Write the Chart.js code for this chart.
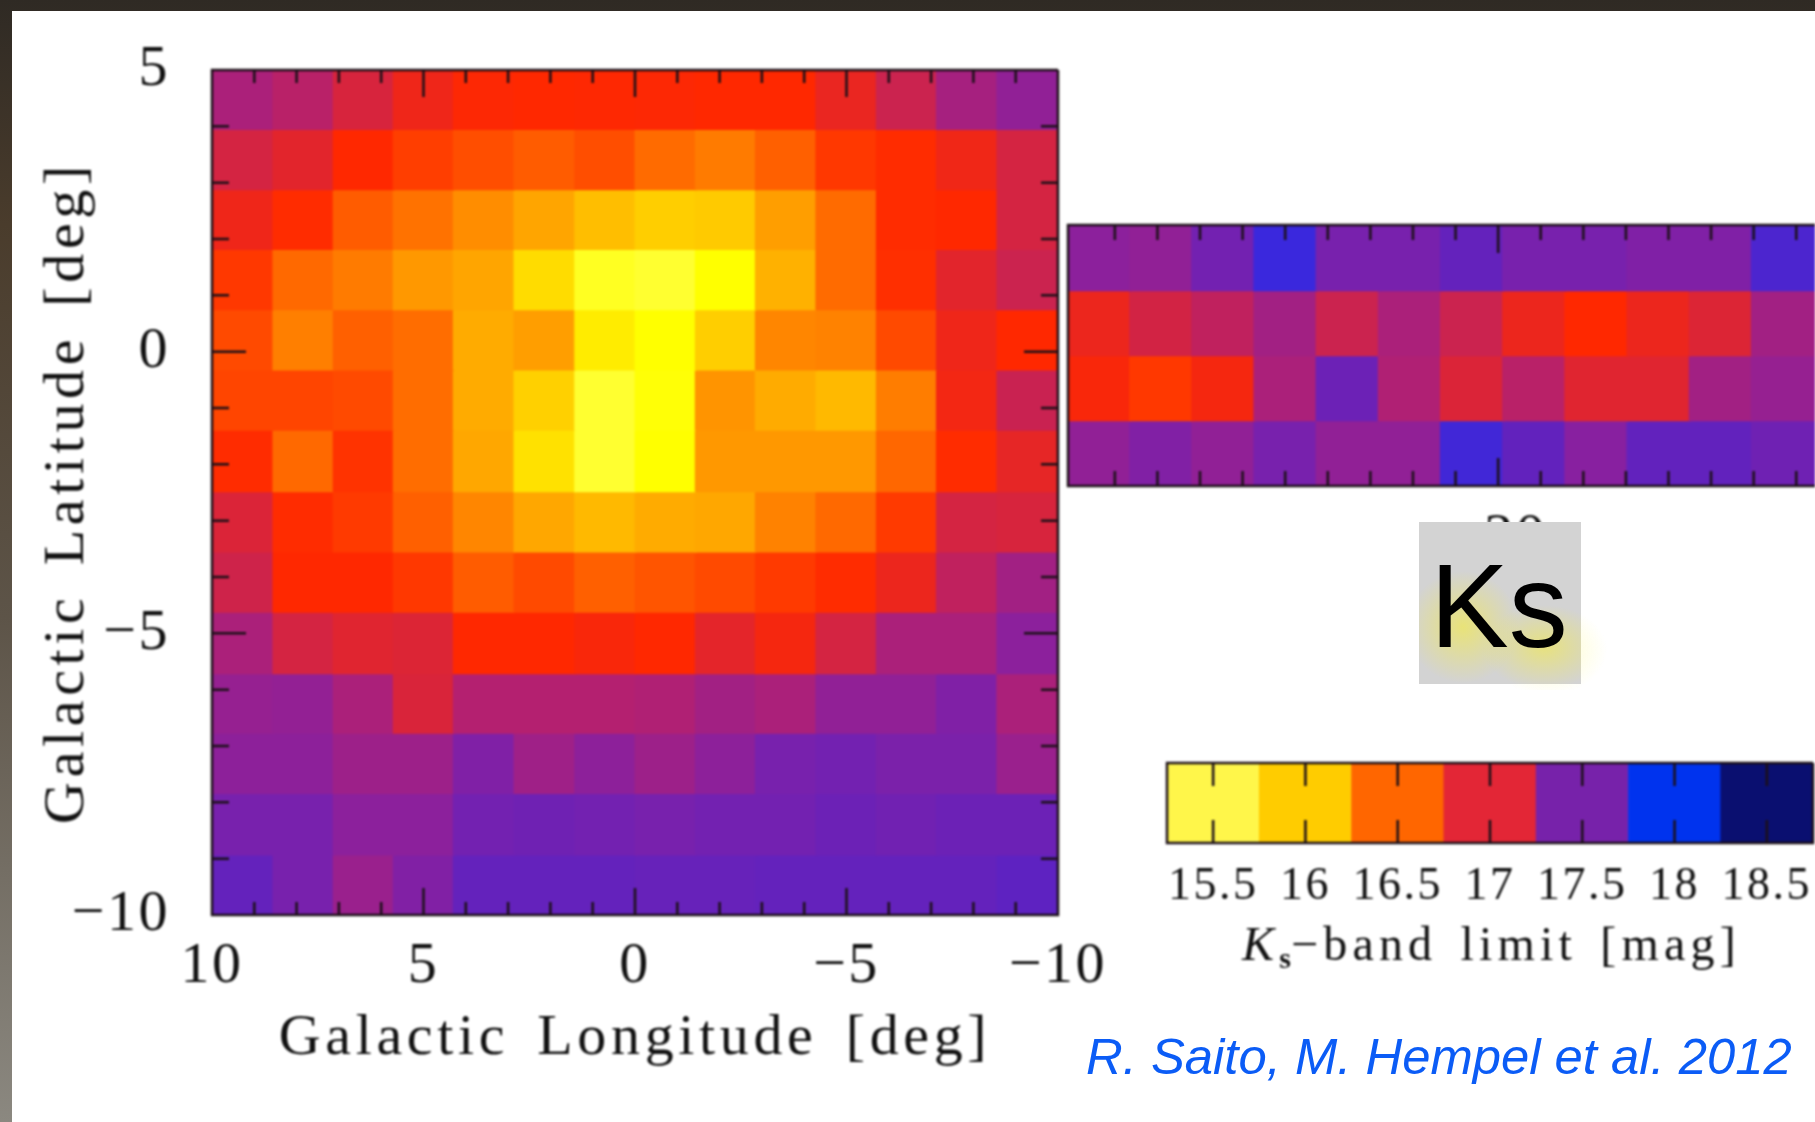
<!DOCTYPE html>
<html>
<head>
<meta charset="utf-8">
<script src="https://cdn.jsdelivr.net/npm/chart.js@4"></script>
<style>
html,body{margin:0;padding:0;width:1815px;height:1122px;overflow:hidden;}
body{position:relative;background:linear-gradient(180deg,#2f2a24 0,#4a3c2c 20%,#5d5448 55%,#8b8880 100%);}
#panel{position:absolute;left:12px;top:11px;right:0;bottom:0;background:#fff;}
canvas{position:absolute;left:0;top:0;filter:blur(1px);}
.t{position:absolute;white-space:nowrap;}
#cbt{left:1242px;top:914px;font:48px "Liberation Serif",serif;letter-spacing:5.2px;word-spacing:6px;color:#111;filter:blur(.8px);line-height:60px;}
#cbt sub{font-size:30px;line-height:0;vertical-align:-8px;font-weight:bold;letter-spacing:0;}
#cred{left:1086px;top:1025px;font:italic 50.8px "Liberation Sans",sans-serif;color:#0b5cf6;filter:blur(.5px);line-height:64px;}
#glow{position:absolute;left:1420px;top:560px;width:190px;height:130px;background:radial-gradient(ellipse 60px 45px at 127px 90px,rgba(255,250,120,.42),rgba(255,250,120,0) 100%);}
#ks{position:absolute;left:1419px;top:522px;width:162px;height:162px;background:
radial-gradient(ellipse 56px 56px at 44px 105px,rgba(240,232,90,.75),rgba(240,232,90,0) 100%),
radial-gradient(ellipse 62px 42px at 125px 125px,rgba(240,232,90,.7),rgba(240,232,90,0) 100%),#d3d3d3;}
#ks span{position:absolute;left:11px;top:-1px;font:118px/170px "Liberation Sans",sans-serif;color:#000;filter:blur(.4px);}
</style>
</head>
<body>
<div id="panel"></div>
<canvas id="main" width="1815" height="1122"></canvas>
<canvas id="strip" width="1815" height="1122"></canvas>
<canvas id="bar" width="1815" height="1122"></canvas>
<div id="glow"></div>
<div id="ks"><span>Ks</span></div>
<div class="t" id="cbt"><i>K</i><sub>s</sub>−band limit [mag]</div>
<div class="t" id="cred">R. Saito, M. Hempel et al. 2012</div>
<script>
// ---------- data ----------
const lonEdges = [10,8.55,7.12,5.7,4.28,2.86,1.41,-0.01,-1.44,-2.86,-4.28,-5.72,-7.14,-8.56,-10];
const latEdges = [5,3.95,2.88,1.82,0.75,-0.32,-1.39,-2.48,-3.55,-4.62,-5.71,-6.77,-7.84,-8.93,-10];
const bulgeLimits = [
[17.30,17.22,17.05,16.88,16.77,16.75,16.76,16.77,16.75,16.75,16.92,17.12,17.33,17.45],
[17.07,16.98,16.75,16.65,16.58,16.52,16.58,16.45,16.38,16.50,16.68,16.73,16.87,17.07],
[16.88,16.73,16.52,16.42,16.30,16.18,16.05,15.95,15.98,16.22,16.45,16.73,16.75,17.07],
[16.68,16.46,16.38,16.25,16.18,15.82,15.38,15.33,15.50,16.12,16.45,16.72,16.98,17.12],
[16.60,16.36,16.50,16.44,16.15,16.22,15.68,15.50,15.95,16.33,16.35,16.60,16.88,16.75],
[16.62,16.62,16.60,16.44,16.15,15.93,15.33,15.48,16.27,16.15,16.08,16.37,16.85,17.13],
[16.73,16.46,16.70,16.44,16.17,15.78,15.33,15.50,16.25,16.25,16.25,16.47,16.73,16.95],
[17.03,16.73,16.67,16.50,16.33,16.17,16.08,16.15,16.17,16.35,16.46,16.67,17.07,17.05],
[17.10,16.75,16.75,16.68,16.52,16.60,16.50,16.55,16.60,16.67,16.73,16.90,17.18,17.35],
[17.30,17.07,17.00,17.02,16.75,16.75,16.80,16.75,16.97,16.83,17.07,17.30,17.30,17.48],
[17.42,17.44,17.30,17.04,17.25,17.25,17.25,17.27,17.35,17.30,17.45,17.45,17.55,17.30],
[17.47,17.47,17.38,17.38,17.55,17.37,17.47,17.38,17.47,17.60,17.63,17.58,17.58,17.40],
[17.60,17.60,17.48,17.48,17.63,17.65,17.63,17.60,17.63,17.63,17.67,17.64,17.67,17.67],
[17.72,17.60,17.40,17.54,17.72,17.72,17.72,17.70,17.70,17.72,17.72,17.72,17.72,17.76]
];
const diskLonEdges = [-9.9,-11.36,-12.82,-14.28,-15.74,-17.2,-18.66,-20.12,-21.58,-23.04,-24.5,-25.96,-27.42];
const diskLatEdges = [2.33,1.16,0,-1.16,-2.33];
const diskLimits = [
[17.48,17.45,17.63,18.00,17.60,17.60,17.72,17.60,17.60,17.55,17.55,17.88],
[16.90,17.08,17.18,17.35,17.12,17.30,17.12,16.90,16.75,16.90,17.02,17.35],
[16.80,16.68,16.83,17.30,17.67,17.27,17.03,17.22,17.00,17.00,17.35,17.42],
[17.45,17.54,17.45,17.60,17.45,17.45,17.95,17.73,17.50,17.73,17.73,17.65]
];
const diskTicks = [-20];
const barMags = [15.5,16,16.5,17,17.5,18,18.5];
const barColors = ['#fff64a','#ffcc00','#ff6600','#e32636','#7722aa','#0033ee','#0a0f70'];
const colorMags = [15.3,15.5,15.75,16,16.25,16.5,16.75,17,17.25,17.5,17.75,18,18.25];
const colorStops = ['#ffff38','#ffff00','#ffe400','#ffc800','#ff9800','#ff6000','#ff2800','#e02530','#b42070','#8820a0','#5f22c0','#3a28dd','#0033ee'];
const latTitle = 'Galactic Latitude [deg]';
const lonTitle = 'Galactic Longitude [deg]';

// ---------- helpers ----------
const SERIF = '"Liberation Serif", serif';
const INK = '#1c1018';
const TXT = '#111';
function hex(c){return [1,3,5].map(i=>parseInt(c.substr(i,2),16));}
function magColor(m){
  if(m<=colorMags[0])return colorStops[0];
  for(let i=1;i<colorMags.length;i++){
    if(m<=colorMags[i]){
      const t=(m-colorMags[i-1])/(colorMags[i]-colorMags[i-1]);
      const a=hex(colorStops[i-1]),b=hex(colorStops[i]);
      return 'rgb('+a.map((v,k)=>Math.round(v+(b[k]-v)*t)).join(',')+')';
    }
  }
  return colorStops[colorStops.length-1];
}
function rowDatasets(grid,xs,ys){
  return grid.map((row,r)=>({
    data:row.map((m,c)=>({x:(xs[c]+xs[c+1])/2,y:[ys[r+1],ys[r]]})),
    backgroundColor:row.map(magColor),
    borderWidth:0,inflateAmount:0.8,barPercentage:1.01,categoryPercentage:1,grouped:false
  }));
}
const minus = v => String(v).replace('-','\u2212');
function fitX(h,titleGap){return s=>{
  s.height=h;s.paddingLeft=0;s.paddingRight=0;tune(s,titleGap);
};}
function fitY(w,titleGap){return s=>{
  s.width=w;s.paddingTop=0;s.paddingBottom=0;tune(s,titleGap);
};}
function tune(s,gap){
  if(s._tuned)return;s._tuned=true;
  const dt=s.drawTitle;
  s.drawTitle=function(){
    const c=this.ctx,l=c.letterSpacing;
    c.letterSpacing=gap+'px';c.wordSpacing='9px';
    dt.apply(this,arguments);
    c.letterSpacing=l;c.wordSpacing='0px';
  };
}
const frame = {
  id:'frame',
  beforeDraw(chart,_,o){chart.ctx.letterSpacing=(o.spacing||0)+'px';},
  afterDatasetsDraw(chart,_,o){
    const c=chart.ctx,A=chart.chartArea,xs=chart.scales.x,ys=chart.scales.y;
    c.save();
    c.letterSpacing='0px';
    c.strokeStyle=INK;c.lineWidth=2.5;c.beginPath();
    (o.xMinor||[]).forEach(v=>{
      const p=xs.getPixelForValue(v),l=(o.xMajor||[]).includes(v)?o.xMajLen:o.xMinLen;
      c.moveTo(p,A.top);c.lineTo(p,A.top+l);
      c.moveTo(p,A.bottom);c.lineTo(p,A.bottom-l);
    });
    (o.yMinor||[]).forEach(v=>{
      const p=ys.getPixelForValue(v),l=(o.yMajor||[]).includes(v)?o.yMajLen:o.yMinLen;
      c.moveTo(A.left,p);c.lineTo(A.left+l,p);
      c.moveTo(A.right,p);c.lineTo(A.right-l,p);
    });
    c.stroke();
    c.lineWidth=2.5;c.beginPath();
    c.moveTo(A.right,A.top);c.lineTo(A.left,A.top);c.lineTo(A.left,A.bottom);c.lineTo(A.right,A.bottom);
    if(!o.openRight){c.lineTo(A.right,A.top);}
    c.stroke();
    c.restore();
  }
};
Chart.register(frame);
const base = {responsive:false,animation:false,devicePixelRatio:1};
const noGrid = {display:false};

// ---------- bulge map ----------
new Chart(document.getElementById('main'),{
  type:'bar',
  data:{datasets:rowDatasets(bulgeLimits,lonEdges,latEdges)},
  options:{...base,
    layout:{padding:{left:39,top:70,right:757,bottom:54}},
    plugins:{legend:{display:false},tooltip:{enabled:false},
      frame:{spacing:2.5,
        xMinor:[9,8,7,6,5,4,3,2,1,0,-1,-2,-3,-4,-5,-6,-7,-8,-9],xMajor:[5,0,-5],xMinLen:13,xMajLen:27,
        yMinor:[4,3,2,1,0,-1,-2,-3,-4,-5,-6,-7,-8,-9],yMajor:[0,-5],yMinLen:17,yMajLen:34}},
    scales:{
      x:{type:'linear',reverse:true,min:-10,max:10,offset:false,grid:noGrid,border:{display:false},
        afterFit:fitX(153,4.65),
        ticks:{stepSize:5,autoSkip:false,maxRotation:0,padding:9,color:TXT,font:{family:SERIF,size:58},callback:minus},
        title:{display:true,text:lonTitle,color:TXT,font:{family:SERIF,size:58,lineHeight:1},padding:0}},
      y:{type:'linear',min:-10,max:5,grid:noGrid,border:{display:false},
        afterFit:fitY(173,4.65),
        ticks:{stepSize:5,autoSkip:false,padding:34,color:TXT,font:{family:SERIF,size:58},callback:minus},
        title:{display:true,text:latTitle,color:TXT,font:{family:SERIF,size:58,lineHeight:1},padding:0}}
    }
  }
});

// ---------- disk strip ----------
new Chart(document.getElementById('strip'),{
  type:'bar',
  data:{datasets:rowDatasets(diskLimits,diskLonEdges,diskLatEdges)},
  options:{...base,
    layout:{padding:{left:1068,top:225,right:0,bottom:500}},
    plugins:{legend:{display:false},tooltip:{enabled:false},
      frame:{openRight:true,spacing:2.5,
        xMinor:[-11,-12,-13,-14,-15,-16,-17,-18,-19,-20,-21,-22,-23,-24,-25,-26,-27],xMajor:diskTicks,xMinLen:15,xMajLen:28}},
    scales:{
      x:{type:'linear',reverse:true,min:-27.44,max:-9.9,offset:false,grid:noGrid,border:{display:false},
        afterFit:fitX(136,0),
        afterBuildTicks(s){s.ticks=diskTicks.map(v=>({value:v}));},
        ticks:{autoSkip:false,maxRotation:0,padding:9,color:TXT,font:{family:SERIF,size:58},callback:minus}},
      y:{type:'linear',min:-2.33,max:2.33,display:false}
    }
  }
});

// ---------- colour bar ----------
new Chart(document.getElementById('bar'),{
  type:'bar',
  data:{datasets:[{data:barMags.map(m=>({x:m,y:[0,1]})),backgroundColor:barColors,borderWidth:0,barPercentage:1,categoryPercentage:1}]},
  options:{...base,
    layout:{padding:{left:1167,top:763,right:2,bottom:150}},
    plugins:{legend:{display:false},tooltip:{enabled:false},
      frame:{spacing:2.5,xMinor:barMags,xMajor:[],xMinLen:23,xMajLen:23}},
    scales:{
      x:{type:'linear',min:15.25,max:18.75,offset:false,grid:noGrid,border:{display:false},
        afterFit:fitX(129,0),
        afterBuildTicks(s){s.ticks=barMags.map(v=>({value:v}));},
        ticks:{autoSkip:false,maxRotation:0,padding:8,color:TXT,font:{family:SERIF,size:46},callback:v=>String(v)}},
      y:{type:'linear',min:0,max:1,display:false}
    }
  }
});
</script>
</body>
</html>
